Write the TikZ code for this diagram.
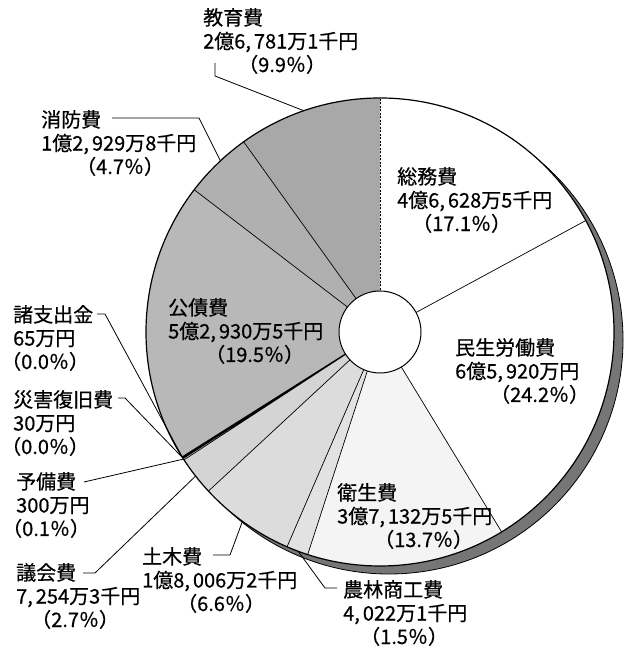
\documentclass[tikz,border=0pt]{standalone}
\usepackage{fontspec}
\setmainfont{Noto Sans CJK JP}[FakeBold=0.5]
\usepackage{tikz}
\definecolor{shadowgray}{HTML}{767676}
\definecolor{kyoikugray}{HTML}{A8A8A8}
\definecolor{shobogray}{HTML}{B0B0B0}
\definecolor{kosaigray}{HTML}{B8B8B8}
\definecolor{gikaigray}{HTML}{D4D4D4}
\definecolor{dobokugray}{HTML}{DCDCDC}
\definecolor{noringray}{HTML}{E2E2E2}
\definecolor{eiseigray}{HTML}{F4F4F4}
\newcommand{\cm}{,\hspace{3pt}}

\begin{document}
\begin{tikzpicture}[x=1pt, y=1pt]
			\tikzstyle{lbl} = [align=left, anchor=north west, inner sep=0pt, font=\fontsize{20}{23.5}\selectfont]
			\tikzstyle{leader} = [draw, line width=0.8pt]
			\tikzstyle{border} = [draw, line width=0.7pt]
			\useasboundingbox (0,0) rectangle (633,652);
			\fill[white] (0,0) rectangle (633,652);
			\coordinate (c) at (380,320);
			\coordinate (sc) at (389,312);
			% shadow
			\filldraw[fill=shadowgray, line width=0.8pt] (sc) circle[radius=234];
			% slices
			\fill[white] (c) circle[radius=234];
			\fill[eiseigray] (c) -- ++(-108:234) arc[start angle=-108, end angle=-58.68, radius=234] -- cycle;
			\fill[noringray] (c) -- ++(-113.4:234) arc[start angle=-113.4, end angle=-108, radius=234] -- cycle;
			\fill[dobokugray] (c) -- ++(-137.16:234) arc[start angle=-137.16, end angle=-113.4, radius=234] -- cycle;
			\fill[gikaigray] (c) -- ++(-146.88:234) arc[start angle=-146.88, end angle=-137.16, radius=234] -- cycle;
			\fill[kosaigray] (c) -- ++(142.56:234) arc[start angle=142.56, end angle=212.24, radius=234] -- cycle;
			\fill[shobogray] (c) -- ++(125.64:234) arc[start angle=125.64, end angle=142.56, radius=234] -- cycle;
			\fill[kyoikugray] (c) -- ++(90:234) arc[start angle=90, end angle=125.64, radius=234] -- cycle;
			% boundaries
			\path[border]
			(c) -- ++(28.44:234)
			(c) -- ++(-58.68:234)
			(c) -- ++(-108:234)
			(c) -- ++(-113.4:234)
			(c) -- ++(-137.16:234)
			(c) -- ++(-146.88:234)
			(c) -- ++(-147.24:234)
			(c) -- ++(-147.5:234)
			(c) -- ++(-147.76:234)
			(c) -- ++(142.56:234)
			(c) -- ++(125.64:234)
			;
			\draw[line width=0.6pt, dash pattern=on 2pt off 1.5pt] (c) -- ++(90:234);
			\draw[line width=1.2pt] (c) circle[radius=234];
			\filldraw[fill=white, line width=1pt] (c) circle[radius=41];
			% labels
			\node[lbl] (kyoiku) at (203,644) {教育費\\2億6\cm781万1千円\\\hspace*{35pt}（9.9％）};
			\node[lbl] (shobo) at (41,542) {消防費\\1億2\cm929万8千円\\\hspace*{35pt}（4.7％）};
			\node[lbl] (somu) at (397,485) {総務費\\4億6\cm628万5千円\\\hspace*{15pt}（17.1％）};
			\node[lbl] (kosai) at (168,354) {公債費\\5億2\cm930万5千円\\\hspace*{37pt}（19.5％）};
			\node[lbl] (minsei) at (455,314) {民生労働費\\6億5\cm920万円\\\hspace*{35pt}（24.2％）};
			\node[lbl] (eisei) at (337,169) {衛生費\\3億7\cm132万5千円\\\hspace*{37pt}（13.7％）};
			\node[lbl] (norin) at (343,72) {農林商工費\\4\cm022万1千円\\\hspace*{17pt}（1.5％）};
			\node[lbl] (doboku) at (142,105) {土木費\\1億8\cm006万2千円\\\hspace*{35pt}（6.6％）};
			\node[lbl] (gikai) at (16,89) {議会費\\7\cm254万3千円\\\hspace*{15pt}（2.7％）};
			\node[lbl] (yobi) at (16,180) {予備費\\300万円\\\hspace*{-14pt}（0.1％）};
			\node[lbl] (saigai) at (13,262) {災害復旧費\\30万円\\\hspace*{-12pt}（0.0％）};
			\node[lbl] (shoshi) at (13,347) {諸支出金\\65万円\\\hspace*{-12pt}（0.0％）};
			% leader lines
			\coordinate (s-kyoiku) at (215,589);
			\coordinate (b-kyoiku) at (215,576);
			\path (c) ++(109:234) coordinate (r-kyoiku);
			\coordinate (s-shobo) at (112,534);
			\coordinate (b-shobo) at (199,534);
			\path (c) ++(133:234) coordinate (r-shobo);
			\coordinate (s-shoshi) at (97,338);
			\coordinate (b-shoshi) at (105,338);
			\path (c) ++(-147.6:234) coordinate (r-shoshi);
			\coordinate (s-saigai) at (118,254);
			\coordinate (b-saigai) at (125,254);
			\path (c) ++(-147.4:234) coordinate (r-saigai);
			\coordinate (s-yobi) at (84,170);
			\path (c) ++(-147.1:234) coordinate (r-yobi);
			\coordinate (s-gikai) at (83,79);
			\coordinate (b-gikai) at (95,79);
			\path (c) ++(-142:234) coordinate (r-gikai);
			\coordinate (s-doboku) at (213,97);
			\coordinate (b-doboku) at (230,97);
			\path (c) ++(-126:234) coordinate (r-doboku);
			\coordinate (s-norin) at (337,64);
			\coordinate (b-norin) at (325,64);
			\path (c) ++(-110.5:234) coordinate (r-norin);
			\path[leader]
			(s-kyoiku) -- (b-kyoiku) -- (r-kyoiku)
			(s-shobo) -- (b-shobo) -- (r-shobo)
			(s-shoshi) -- (b-shoshi) -- (r-shoshi)
			(s-saigai) -- (b-saigai) -- (r-saigai)
			(s-yobi) -- (r-yobi)
			(s-gikai) -- (b-gikai) -- (r-gikai)
			(s-doboku) -- (b-doboku) -- (r-doboku)
			(s-norin) -- (b-norin) -- (r-norin)
			;
\end{tikzpicture}
\end{document}
